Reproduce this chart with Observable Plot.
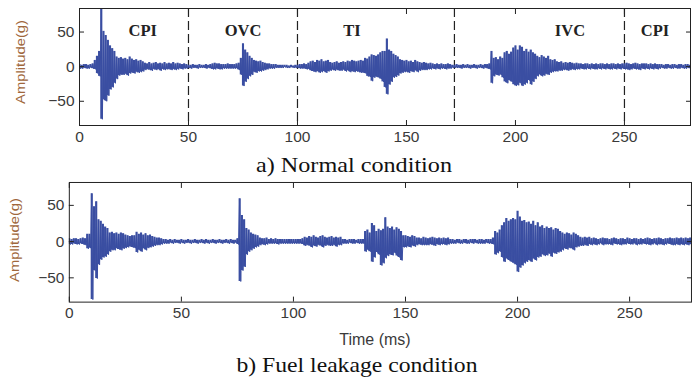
<!DOCTYPE html>
<html><head><meta charset="utf-8">
<script src="https://cdn.jsdelivr.net/npm/d3@7"></script>
<script src="https://cdn.jsdelivr.net/npm/@observablehq/plot@0.6"></script>
<style>
html,body{margin:0;padding:0;background:#fff;overflow:hidden;width:692px;height:379px}
#wrap{position:relative;width:692px;height:379px;overflow:hidden}
.panel{position:absolute;left:0}
#overlay{position:absolute;left:0;top:0;pointer-events:none}
</style></head>
<body><div id="wrap"></div>
<script>
// ---- data ----
const xTicks = [0, 50, 100, 150, 200, 250];
const yTicks = [-50, 0, 50];
const phaseBounds = [50, 100, 172, 250];
const phaseNames = ["CPI", "OVC", "TI", "IVC", "CPI"];
const phaseTimes = [29, 75, 125, 225, 264];

// Normal condition: upper / lower envelope (g) per ms, 0..280 ms
const normalHi = [3,2,3,3,2,3,4,9,15,22, 85,51,45,38,30,26,22,14,12,13, 11,12,10,14,11,9,10,8,9,7, 5,4,6,4,5,6,4,5,4,6,
 4,5,4,6,4,5,4,3,4,3, 2,2,3,2,2,3,2,2,3,2, 3,4,5,4,4,3,3,3,4,3, 3,3,4,5,12,33,24,20,15,12, 9,8,7,8,6,5,4,4,3,3,
 3,2,2,2,2,2,1,2,1,2, 2,3,3,4,3,5,7,8,6,9, 8,10,7,8,9,6,5,6,7,5, 6,7,6,8,7,9,8,7,8,9, 8,12,11,14,17,16,15,17,20,22,
 22,40,24,22,18,16,14,10,9,8, 9,7,8,6,9,7,6,5,6,5, 4,5,4,3,4,3,4,3,3,4, 3,2,2,3,2,2,3,2,3,2, 2,3,2,2,3,2,3,3,4,22,
 12,13,10,14,12,20,22,18,21,27, 30,24,30,28,22,25,21,24,20,18, 15,13,16,14,12,15,10,9,10,7, 6,7,5,6,5,6,5,4,5,4,
 4,3,4,4,3,4,3,4,3,4, 4,3,4,3,4,4,3,4,3,4, 4,5,4,3,4,5,4,3,4,4, 4,3,4,3,4,3,3,3,2,3, 3,2,3,3,2,3,3,2,3,3,2];
const normalLo = [3,3,2,3,3,2,3,4,10,14, 76,48,50,42,33,30,24,18,13,12, 12,11,13,10,9,10,8,9,8,7, 5,4,5,6,4,5,4,6,4,5,
 4,4,5,4,5,4,3,4,3,3, 2,3,2,2,3,2,2,2,3,2, 3,4,4,3,4,4,3,3,3,3, 3,3,3,5,12,28,22,18,14,12, 8,9,7,7,6,5,4,3,3,3,
 2,2,2,2,1,2,2,1,2,2, 2,3,3,3,4,4,6,7,8,7, 9,8,7,9,7,6,5,6,5,6, 6,5,7,6,8,7,8,7,8,9, 9,10,14,15,21,16,15,16,18,22,
 30,40,26,22,16,15,13,10,9,8, 8,9,7,8,6,8,6,5,5,5, 4,4,3,4,3,4,3,3,4,3, 3,2,2,2,2,3,2,2,2,3, 2,2,3,2,2,3,2,3,4,24,
 14,12,13,12,16,22,24,20,22,26, 28,27,24,28,26,24,20,26,22,18, 14,12,14,13,11,12,9,8,7,7, 6,6,5,5,6,5,4,5,4,4,
 3,4,4,3,4,3,4,4,3,4, 3,4,3,4,4,3,4,3,4,3, 4,4,5,4,3,4,4,5,3,4, 3,4,3,4,3,4,3,2,3,3, 2,3,3,2,3,3,2,3,3,2,3];

// Fuel leakage condition: upper / lower envelope (g) per ms, 0..277 ms
const leakHi = [4,3,4,4,3,4,5,4,10,10, 66,48,55,30,28,24,20,18,12,13, 11,12,10,12,11,9,8,7,8,8, 13,10,12,9,11,8,9,7,6,5,
 5,4,3,3,2,3,2,3,2,2, 3,2,2,3,2,2,3,2,2,3, 2,3,2,2,3,2,2,3,2,2, 3,2,3,2,2,4,59,36,30,18, 16,12,10,9,8,5,4,4,5,3,
 4,3,4,3,3,3,3,3,3,3, 3,3,3,3,4,6,5,7,6,8, 6,5,7,8,6,5,6,7,5,6, 5,6,3,3,2,3,3,3,2,3, 3,3,14,16,12,25,22,14,17,15,
 17,33,20,18,20,16,19,17,14,8, 8,7,6,8,7,5,5,4,6,5, 4,5,6,5,4,5,4,5,4,5, 3,3,2,3,3,2,3,3,2,3, 3,3,2,3,3,2,3,3,3,5,
 14,12,16,22,26,32,28,30,32,30, 42,34,28,29,26,27,24,28,22,26, 20,22,18,20,18,19,16,18,17,14, 12,10,12,11,9,12,10,8,6,5,
 6,5,6,4,5,4,3,4,5,4, 4,3,4,5,4,3,4,4,3,5, 4,3,4,4,3,4,3,4,5,4, 3,4,4,5,4,3,4,4,5,4, 4,5,4,5,4,5,4,5];
const leakLo = [4,4,3,4,4,3,4,5,10,9, 80,40,51,32,25,22,21,18,14,12, 12,10,11,12,10,9,8,7,8,9, 15,12,14,10,12,9,8,7,6,5,
 5,4,3,3,3,2,3,2,2,3, 2,3,2,2,3,2,2,3,2,2, 3,2,3,2,2,3,2,2,3,2, 2,3,2,3,2,4,55,40,35,18, 14,12,10,8,7,5,4,5,4,3,
 3,3,3,4,3,3,3,3,3,3, 3,3,3,3,4,6,5,6,8,6, 7,5,6,8,6,5,6,6,5,7, 5,5,3,3,3,2,3,3,2,3, 3,3,14,12,14,28,22,15,18,33,
 30,23,20,18,19,16,20,22,26,8, 8,7,8,6,7,5,4,5,5,5, 5,4,5,6,4,5,4,4,5,4, 3,3,3,2,3,3,2,3,3,2, 3,2,3,3,3,3,2,3,3,4,
 18,16,14,22,28,24,26,28,30,32, 42,36,33,30,28,26,28,24,26,22, 21,18,20,19,17,21,16,17,15,14, 12,10,11,9,10,12,8,7,6,6,
 5,6,4,5,4,5,4,3,5,4, 4,4,5,3,4,4,5,4,4,3, 4,4,3,5,4,4,3,4,4,5, 4,3,5,4,4,5,4,3,4,5, 5,4,5,4,5,4,5,4];

// ---- build ----
function signal(hi, lo) {
  const out = [];
  hi.forEach((h, i) => { out.push({t: i, v: h}); out.push({t: i + 0.5, v: -lo[i]}); });
  return out;
}
function envelope(hi, lo) {
  return hi.map((h, i) => ({t: i, hi: h, lo: -lo[i]}));
}
const BLUE = "#3a4ea2";
const AX = "#222";
const axisStyle = {fontFamily: "'Liberation Sans', Arial, sans-serif", fontSize: "15.5px", color: "#3a3a3a", background: "transparent", overflow: "visible"};

function axes() {
  return [
    Plot.frame({stroke: AX, strokeWidth: 1}),
    Plot.axisX(xTicks, {anchor: "bottom", tickSize: 0, tickPadding: 5, label: null}),
    Plot.axisX(xTicks, {anchor: "bottom", tickSize: -5, tickFormat: () => "", label: null, stroke: AX}),
    Plot.axisX(xTicks, {anchor: "top", tickSize: -5, tickFormat: () => "", label: null, stroke: AX}),
    Plot.axisY(yTicks, {anchor: "left", tickSize: 0, tickPadding: 5, label: null}),
    Plot.axisY(yTicks, {anchor: "left", tickSize: -5, tickFormat: () => "", label: null, stroke: AX}),
    Plot.axisY(yTicks, {anchor: "right", tickSize: -5, tickFormat: () => "", label: null, stroke: AX})
  ];
}
function signalMarks(hi, lo) {
  return [
    Plot.ruleX(envelope(hi, lo), {x: "t", y1: "lo", y2: "hi", stroke: BLUE, strokeWidth: 2.1, clip: true}),
    Plot.line(signal(hi, lo), {x: "t", y: "v", stroke: BLUE, strokeWidth: 1, clip: true})
  ];
}

const pa = Plot.plot({
  width: 692, height: 150, marginLeft: 79, marginRight: 2, marginTop: 8, marginBottom: 25,
  x: {domain: [0, 280.3], label: null}, y: {domain: [-85, 84], label: null},
  style: axisStyle,
  marks: [
    Plot.ruleX(phaseBounds, {stroke: AX, strokeWidth: 1.2, strokeDasharray: "9,4"}),
    ...signalMarks(normalHi, normalLo),
    Plot.text(phaseNames, {x: (d, i) => phaseTimes[i], y: 52, text: d => d, fontFamily: "'Liberation Serif', 'Times New Roman', serif", fontWeight: "bold", fontSize: 16.5, fill: "#222", letterSpacing: 1.5}),
    ...axes()
  ]
});
pa.classList.add("panel"); pa.style.top = "0px";

const pb = Plot.plot({
  width: 694, height: 153, marginLeft: 69, marginRight: 1, marginTop: 8, marginBottom: 25,
  x: {domain: [0, 277.6], label: null}, y: {domain: [-83.5, 81.6], label: null},
  style: axisStyle,
  marks: [
    ...signalMarks(leakHi, leakLo),
    ...axes()
  ]
});
pb.classList.add("panel"); pb.style.top = "174px";

const wrap = document.getElementById("wrap");
wrap.appendChild(pa);
wrap.appendChild(pb);

// text overlay
const NS = "http://www.w3.org/2000/svg";
const ov = document.createElementNS(NS, "svg");
ov.setAttribute("id", "overlay"); ov.setAttribute("width", 692); ov.setAttribute("height", 379);
function addText(str, x, y, attrs) {
  const t = document.createElementNS(NS, "text");
  t.textContent = str;
  t.setAttribute("x", x); t.setAttribute("y", y);
  for (const k in attrs) t.setAttribute(k, attrs[k]);
  ov.appendChild(t);
}
const serif = {"font-family": "'Liberation Serif', 'Times New Roman', serif", "font-size": 22, "text-anchor": "middle", fill: "#111", lengthAdjust: "spacingAndGlyphs"};
addText("a) Normal condition", 354, 172, Object.assign({textLength: 196}, serif));
addText("b) Fuel leakage condition", 357, 372, Object.assign({textLength: 241}, serif));
addText("Time (ms)", 375, 345, {"font-family": "'Liberation Sans', Arial, sans-serif", "font-size": 16, "text-anchor": "middle", fill: "#3a3a3a"});
const ylab = {"font-family": "'Liberation Sans', Arial, sans-serif", "font-size": 13, "text-anchor": "middle", fill: "#a0673c", textLength: 84, lengthAdjust: "spacingAndGlyphs"};
addText("Amplitude(g)", 0, 0, Object.assign({transform: "translate(25,62) rotate(-90)"}, ylab));
addText("Amplitude(g)", 0, 0, Object.assign({transform: "translate(19,240) rotate(-90)"}, ylab));
wrap.appendChild(ov);
</script>
</body></html>
